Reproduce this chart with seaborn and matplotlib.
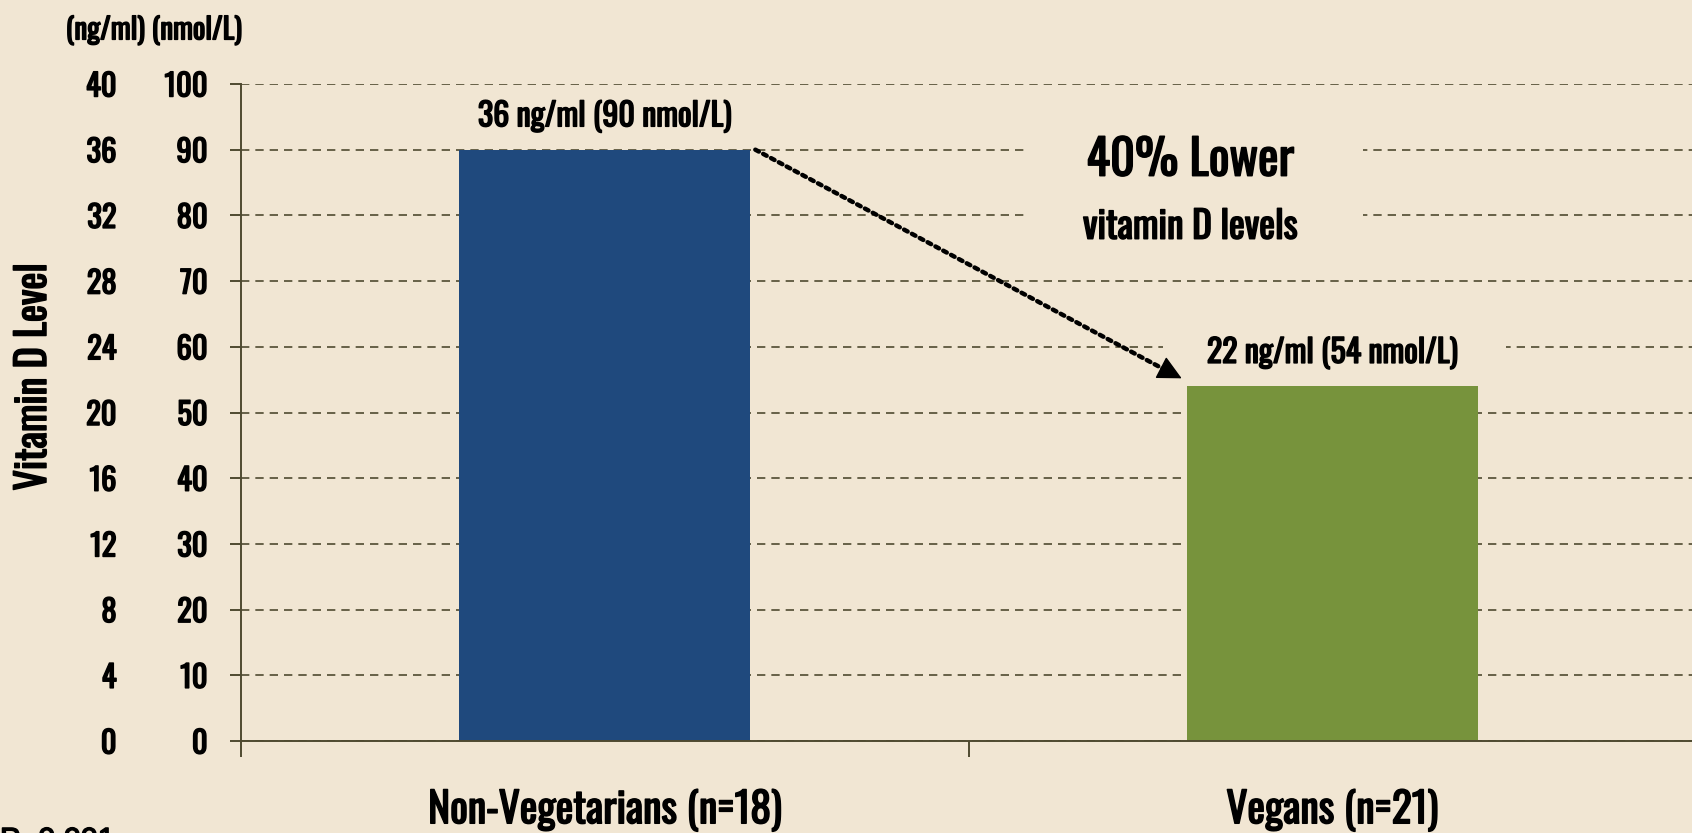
import numpy as np
import pandas as pd
import seaborn as sns
import matplotlib.pyplot as plt
import matplotlib.patheffects as pe
from matplotlib.text import Text
from matplotlib.patches import Rectangle

groups = ["Non-Vegetarians (n=18)", "Vegans (n=21)"]
nmol = [90, 54]
ngml = [36, 22]
bar_labels = ["36 ng/ml (90 nmol/L)", "22 ng/ml (54 nmol/L)"]
colors = ["#1f497d", "#77933c"]
nmol_ticks = list(range(0, 101, 10))
ngml_ticks = list(range(0, 41, 4))

bg = "#f1e6d3"
ink = "#4f4a30"
cond = ["Oswald", "Barlow Condensed", "DejaVu Sans"]

sns.set_theme(style="white")
plt.rcParams["font.family"] = cond
plt.rcParams["font.weight"] = "bold"
plt.rcParams["text.color"] = "black"
plt.rcParams["xtick.labelcolor"] = "black"
plt.rcParams["ytick.labelcolor"] = "black"

df = pd.DataFrame({"group": groups, "nmol": nmol})

fig = plt.figure(figsize=(16.92, 8.33), dpi=100, facecolor=bg)
ax = fig.add_axes([0.1424, 0.1104, 0.86, 0.7888], facecolor=bg)

sns.barplot(data=df, x="group", y="nmol", hue="group", palette=colors,
            width=0.4, saturation=1, legend=False, ax=ax, zorder=2,
            linewidth=0, edgecolor="none")

ax.set_xlim(-0.5, 1.5)
ax.set_ylim(0, 100)
ax.set_yticks(nmol_ticks)
ax.set_xlabel("")
ax.set_ylabel("")

# dashed gridlines
ax.grid(axis="y", color=ink, linewidth=1.2, linestyle=(0, (5, 3.6)), zorder=0)
ax.set_axisbelow(True)

for s in ["top", "right"]:
    ax.spines[s].set_visible(False)
for s in ["left", "bottom"]:
    ax.spines[s].set_color(ink)
    ax.spines[s].set_linewidth(1.4)

ax.tick_params(axis="y", direction="out", length=8, width=1.4, color=ink,
               pad=16, labelsize=22, labelcolor="black", left=True)
ax.set_xticks([0, 1])
ax.set_xticklabels(groups)
ax.set_xticks([-0.5, 0.5, 1.5], minor=True)
ax.tick_params(axis="x", which="major", length=0, pad=34, labelsize=30,
               labelcolor="black")
ax.tick_params(axis="x", which="minor", direction="out", length=11.5,
               width=1.4, color=ink, bottom=True)

# second scale in ng/ml
sec = ax.secondary_yaxis(-0.0855, functions=(lambda v: v * 0.4, lambda v: v / 0.4))
sec.set_yticks(ngml_ticks)
sec.tick_params(length=0, pad=0, labelsize=22, labelcolor="black")
sec.spines["left"].set_visible(False)

# background masks behind texts over the grid
ax.add_patch(Rectangle((0.576, 74.7), 0.466, 21.3, facecolor=bg,
                       edgecolor="none", zorder=1))
ax.add_patch(Rectangle((0.768, 57), 0.471, 6, facecolor=bg,
                       edgecolor="none", zorder=1))

for i, lab in enumerate(bar_labels):
    ax.text(i, nmol[i] + 5, lab, ha="center", va="center", fontsize=23,
            color="black", zorder=3)

ax.text(0.805, 88.4, "40% Lower", ha="center", va="center", fontsize=35,
        color="black", zorder=3)
ax.text(0.805, 78.2, "vitamin D levels", ha="center", va="center",
        fontsize=27, color="black", zorder=3)

# dotted connector plus solid head
ax.annotate("", xy=(0.775, 56.2), xytext=(0.207, 90),
            arrowprops=dict(arrowstyle="-", color="black", lw=3.2,
                            linestyle=(0, (0.9, 1.1)), shrinkA=0, shrinkB=0),
            zorder=4)
ax.annotate("", xy=(0.793, 55.2), xytext=(0.772, 56.4),
            arrowprops=dict(arrowstyle="-|>,head_length=0.9,head_width=0.45",
                            color="black", lw=1, mutation_scale=17,
                            shrinkA=0, shrinkB=0),
            zorder=4)

fig.text(154 / 1692, 1 - 30 / 833, "(ng/ml) (nmol/L)", ha="center",
         va="center", fontsize=21, color="black")
fig.text(33 / 1692, 1 - 377 / 833, "Vitamin D Level", rotation=90,
         ha="center", va="center", fontsize=29, color="black")
fig.text(0.0, 1 - 826 / 833, "P=0.001", ha="left", va="top",
         fontsize=22, color="black", family=["Liberation Sans", "DejaVu Sans"],
         weight="normal")

# the installed Oswald is a light cut, so thicken the glyphs a little
fig.canvas.draw()
for t in fig.findobj(Text):
    t.set_path_effects([pe.withStroke(linewidth=1.1, foreground="black")])

fig.savefig("out.png", dpi=100, facecolor=bg)
